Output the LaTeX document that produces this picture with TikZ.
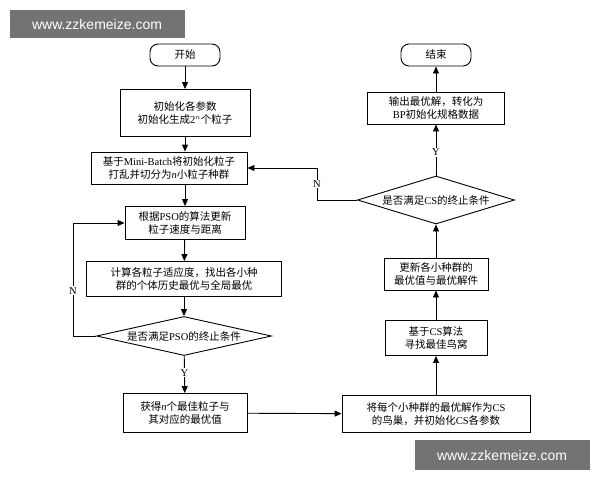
\documentclass[tikz,border=0pt]{standalone}
\usepackage{fontspec}
\setmainfont{Noto Sans CJK SC}
\newfontfamily\lat{Liberation Serif}
\newfontfamily\wmf{Liberation Sans}
\newcommand{\La}[1]{{\lat #1}}
\usetikzlibrary{shapes.geometric,arrows.meta}
\begin{document}
\begin{tikzpicture}[x=1pt,y=-1pt,
  every node/.style={font=\fontsize{10.5}{13.5}\selectfont,align=center},
  box/.style={draw,line width=0.9pt,inner sep=0pt},
  term/.style={draw,line width=0.9pt,rounded corners=8pt,minimum width=70pt,minimum height=22pt},
  dia/.style={draw,line width=0.9pt,diamond,aspect=4,inner sep=0pt},
  arr/.style={-{Triangle[length=7pt,width=6pt]},line width=0.9pt},
  wm/.style={fill=black!55,text=white,font=\fontsize{14}{16}\selectfont\wmf,inner sep=0pt}]
\useasboundingbox (0,0) rectangle (600,480);
\node[wm,minimum width=175pt,minimum height=28pt] (w1) at (97,24) {www.zzkemeize.com};
\node[wm,minimum width=175pt,minimum height=30pt] (w2) at (502,455) {www.zzkemeize.com};
\node[term] (start) at (185,55) {开始};
\node[box,minimum width=130pt,minimum height=47pt] (b1) at (185,113) {初始化各参数\\初始化生成\La{2}$^{n}$个粒子};
\node[box,minimum width=156pt,minimum height=32pt] (b2) at (169,168) {基于\La{Mini-Batch}将初始化粒子\\打乱并切分为\La{\itshape n}小粒子种群};
\node[box,minimum width=120pt,minimum height=33pt] (b3) at (185,223) {根据\La{PSO}的算法更新\\粒子速度与距离};
\node[box,minimum width=195pt,minimum height=35pt] (b4) at (184,279) {计算各粒子适应度，找出各小种\\群的个体历史最优与全局最优};
\node[dia,minimum width=175pt,minimum height=39pt] (d1) at (184,336) {是否满足\La{PSO}的终止条件};
\node[box,minimum width=124pt,minimum height=39pt] (b5) at (185,413) {获得\La{\itshape n}个最佳粒子与\\其对应的最优值};
\node[box,minimum width=188pt,minimum height=37pt] (b6) at (436,414) {将每个小种群的最优解作为\La{CS}\\的鸟巢，并初始化\La{CS}各参数};
\node[box,minimum width=102pt,minimum height=35pt] (b7) at (436,338) {基于\La{CS}算法\\寻找最佳鸟窝};
\node[box,minimum width=104pt,minimum height=32pt] (b8) at (436,274) {更新各小种群的\\最优值与最优解件};
\node[dia,minimum width=157pt,minimum height=48pt] (d2) at (436,200) {是否满足\La{CS}的终止条件};
\node[box,minimum width=137pt,minimum height=32pt] (b9) at (436,108) {输出最优解，转化为\\\La{BP}初始化规格数据};
\node[term] (end) at (436,55) {结束};
\draw[arr] (start) -- (b1);
\draw[arr] (b1) -- (b1|-b2.north);
\draw[arr] (b1|-b2.south) -- (b3);
\draw[arr] (b3) -- (b4);
\draw[arr] (b4) -- (d1);
\draw[arr] (d1) -- node[pos=0.45,fill=white,inner sep=1pt]{\La{Y}} (b5);
\draw[arr] (d1.west) -- (73,336) -- node[pos=0.4,fill=white,inner sep=1pt]{\La{N}} (73,223) -- (b3.west);
\draw[arr] (b5) -- (b6);
\draw[arr] (b6) -- (b7);
\draw[arr] (b7) -- (b8);
\draw[arr] (b8) -- (d2);
\draw[arr] (d2) -- node[pos=0.45,fill=white,inner sep=1pt]{\La{Y}} (b9);
\draw[arr] (b9) -- (end);
\draw[arr] (d2.west) -- (317,200) -- node[pos=0.5,fill=white,inner sep=1pt]{\La{N}} (317,168) -- (b2.east);
\end{tikzpicture}
\end{document}
